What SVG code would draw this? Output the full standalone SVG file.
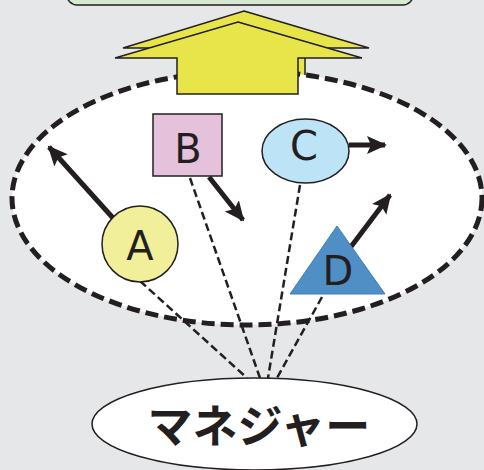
<svg xmlns="http://www.w3.org/2000/svg" width="484" height="470" viewBox="0 0 484 470">
<style>
.lbl{font-family:"DejaVu Sans","Liberation Sans",sans-serif;font-size:40px;fill:#231f20;text-anchor:middle}
.thick{stroke:#231f20;stroke-width:5;fill:none}
.thin{stroke:#231f20;stroke-width:2.5;stroke-dasharray:8 4;fill:none}
.out{stroke:#231f20;stroke-width:1.5}
</style>
<defs>
<marker id="ah" markerUnits="userSpaceOnUse" markerWidth="20" markerHeight="20" viewBox="0 0 20 20" refX="18" refY="10" orient="auto">
<path d="M0,1 L20,10 L0,19 L4,10 Z" fill="#231f20"/>
</marker>
</defs>
<rect width="484" height="470" fill="#e6e7e9"/>
<g id="goal"><rect x="67" y="-20" width="346" height="25" rx="10" fill="#d7e8d3" class="out"/></g>
<g id="arrow-back"><path d="M244,11 L369,48 L305,48 L305,110 L184,110 L184,48 L123,48 Z" fill="#e8e54a" class="out"/></g>
<g id="team"><ellipse cx="247" cy="198" rx="235" ry="127" fill="#fff" stroke="#231f20" stroke-width="5" stroke-dasharray="13 6"/></g>
<g id="arrow-front"><path d="M238,22 L362,58 L298,58 L298,94 L177,94 L177,58 L115,58 Z" fill="#e8e54a" class="out"/></g>
<g id="connectors">
<line class="thin" x1="140" y1="281" x2="247" y2="378"/>
<line class="thin" x1="190" y1="178" x2="260" y2="378"/>
<line class="thin" x1="300" y1="185" x2="268" y2="378"/>
<line class="thin" x1="322" y1="297" x2="277" y2="378"/>
<line class="thick" x1="113" y1="218" x2="49" y2="147" marker-end="url(#ah)"/>
<line class="thick" x1="209" y1="177" x2="243" y2="220" marker-end="url(#ah)"/>
<line class="thick" x1="349" y1="145" x2="385" y2="145" marker-end="url(#ah)"/>
<line class="thick" x1="350" y1="248" x2="390" y2="195" marker-end="url(#ah)"/>
</g>
<g id="nodeA"><circle cx="140" cy="244" r="38" fill="#f1ef9a" class="out"/><text class="lbl" x="140" y="260">A</text></g>
<g id="nodeB"><rect x="153" y="114" width="69" height="62" fill="#e5c1dc" class="out"/><text class="lbl" x="188" y="163">B</text></g>
<g id="nodeC"><ellipse cx="305.5" cy="151" rx="43.5" ry="32" fill="#bde3f7" class="out"/><text class="lbl" x="304" y="160">C</text></g>
<g id="nodeD"><path d="M337,226 L385,294 L290,294 Z" fill="#4f8fc6" stroke="#3e7fb8" stroke-width="1"/><text class="lbl" x="338" y="285">D</text></g>
<g id="manager"><ellipse cx="254.5" cy="424" rx="162.5" ry="46" fill="#fff" class="out"/><text x="259" y="443" font-family="'Noto Sans CJK JP',sans-serif" font-size="45" font-weight="bold" fill="#231f20" text-anchor="middle">マネジャー</text></g>
</svg>
